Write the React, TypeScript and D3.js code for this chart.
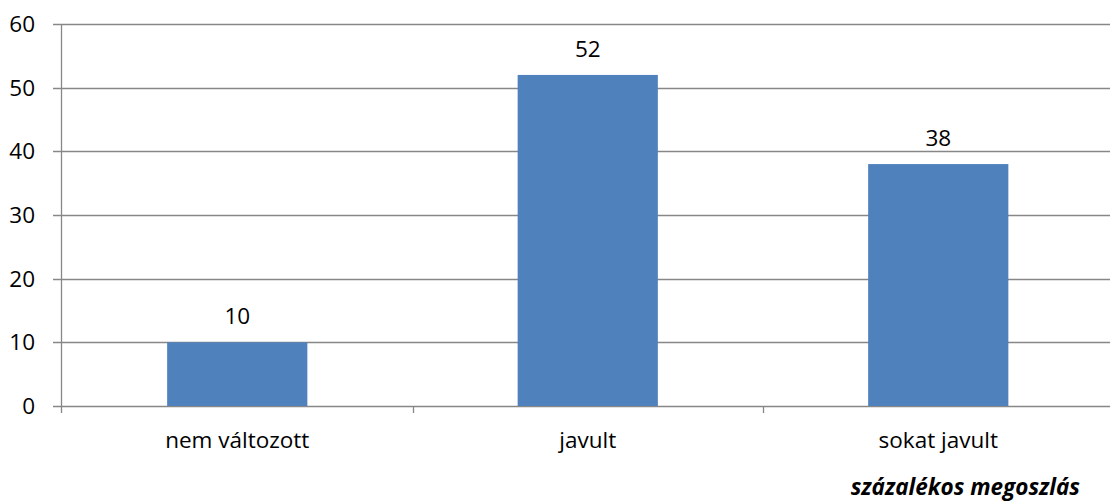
import React, { useEffect, useRef } from 'react';
import * as d3 from 'd3';

const categories = ['nem változott', 'javult', 'sokat javult'];
const values = [10, 52, 38];
const yTicks = [0, 10, 20, 30, 40, 50, 60];
const caption = 'százalékos megoszlás';

const App: React.FC = () => {
  const svgRef = useRef<SVGSVGElement>(null);

  useEffect(() => {
    if (!svgRef.current) return;
    const svg = d3.select(svgRef.current);
    svg.selectAll('*').remove();

    const left = 62;
    const right = 1113.5;
    const top = 24;
    const bottom = 406;
    const font = '"Open Sans", sans-serif';
    const fs = '22.5px';
    const gridColor = '#878787';

    const x = d3.scaleBand<string>()
      .domain(categories)
      .range([left, right])
      .paddingInner(0.6)
      .paddingOuter(0.3);

    const y = d3.scaleLinear().domain([0, 60]).range([bottom, top]);

    // gridlines + y ticks
    const grid = svg.append('g');
    yTicks.forEach(t => {
      grid.append('line')
        .attr('x1', left - 9).attr('x2', 1110)
        .attr('y1', Math.round(y(t)) + 0.5).attr('y2', Math.round(y(t)) + 0.5)
        .attr('stroke', gridColor).attr('stroke-width', 1.3);
      grid.append('text')
        .attr('x', 35).attr('y', y(t) + 8)
        .attr('text-anchor', 'end')
        .style('font-family', font).style('font-size', fs).style('fill', '#000')
        .text(t);
    });

    // y axis line
    svg.append('line')
      .attr('x1', left - 0.5).attr('x2', left - 0.5)
      .attr('y1', top).attr('y2', bottom + 7)
      .attr('stroke', gridColor).attr('stroke-width', 1.3);

    // category ticks
    const step = x.step();
    categories.forEach((_, i) => {
      const tx = left + step * (i + 1);
      svg.append('line')
        .attr('x1', Math.round(tx) + 0.5).attr('x2', Math.round(tx) + 0.5)
        .attr('y1', bottom).attr('y2', bottom + 7)
        .attr('stroke', gridColor).attr('stroke-width', 1.3);
    });

    // bars
    svg.append('g').selectAll('rect')
      .data(values)
      .join('rect')
      .attr('x', (_, i) => x(categories[i])!)
      .attr('y', d => y(d))
      .attr('width', x.bandwidth())
      .attr('height', d => y(0) - y(d))
      .attr('fill', '#4F81BD');

    // value labels
    svg.append('g').selectAll('text')
      .data(values)
      .join('text')
      .attr('x', (_, i) => x(categories[i])! + x.bandwidth() / 2)
      .attr('y', d => y(d) - 18)
      .attr('text-anchor', 'middle')
      .style('font-family', font).style('font-size', fs).style('fill', '#000')
      .text(d => d);

    // category labels
    svg.append('g').selectAll('text')
      .data(categories)
      .join('text')
      .attr('x', d => x(d)! + x.bandwidth() / 2)
      .attr('y', 448)
      .attr('text-anchor', 'middle')
      .style('font-family', font).style('font-size', fs).style('fill', '#000')
      .text(d => d);

    svg.append('text')
      .attr('x', 1080).attr('y', 495)
      .attr('text-anchor', 'end')
      .style('font-family', font).style('font-size', fs)
      .style('font-weight', 'bold').style('font-style', 'italic').style('fill', '#000')
      .text(caption);
  }, []);

  return (
    <svg ref={svgRef} width={1110} height={501}
      style={{ position: 'absolute', left: 0, top: 0, background: '#fff' }} />
  );
};

export default App;
